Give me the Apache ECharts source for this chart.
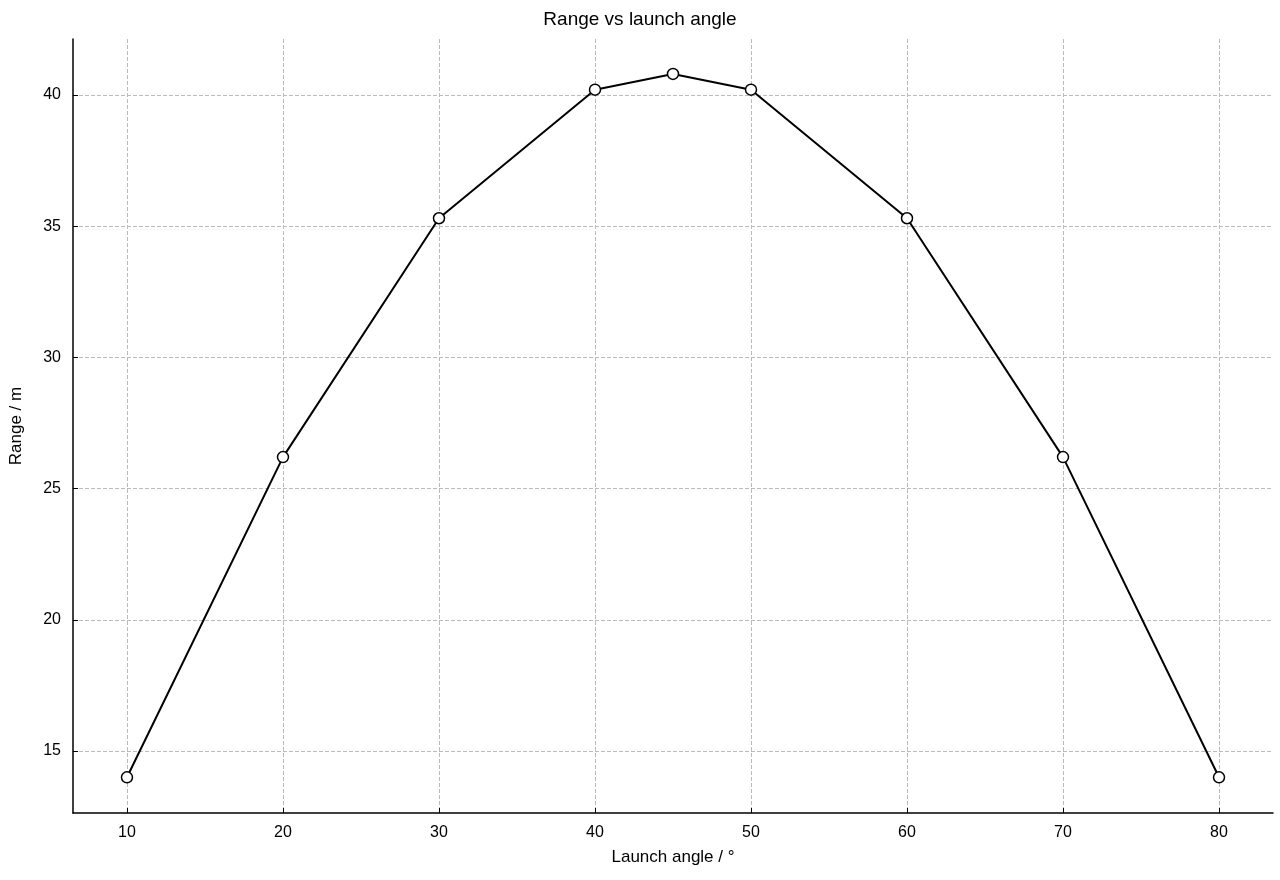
<!DOCTYPE html>
<html><head><meta charset="utf-8">
<script src="https://cdn.jsdelivr.net/npm/echarts@6/dist/echarts.min.js"></script>
<style>html,body{margin:0;padding:0;background:#fff}#c{width:1280px;height:880px}</style>
</head><body><div id="c"></div>
<script>
const angles = [10, 20, 30, 40, 45, 50, 60, 70, 80];
const ranges = [14.0, 26.2, 35.3, 40.2, 40.8, 40.2, 35.3, 26.2, 14.0];
const xTicks = [10, 20, 30, 40, 50, 60, 70, 80];
const yTicks = [15, 20, 25, 30, 35, 40];
const font = 'Liberation Sans, Arial, sans-serif';
const chart = echarts.init(document.getElementById('c'));
chart.setOption({
  animation: false,
  backgroundColor: '#fff',
  title: {text: 'Range vs launch angle', left: 'center', top: 5,
    textStyle: {fontFamily: font, fontSize: 19, fontWeight: 'normal', color: '#000'}},
  grid: {left: 73, right: 7, top: 39, bottom: 67},
  xAxis: {type: 'value', min: 6.54, max: 83.46,
    name: 'Launch angle / °', nameLocation: 'middle', nameGap: 36,
    nameTextStyle: {fontFamily: font, fontSize: 17, color: '#000'},
    axisLine: {lineStyle: {color: '#000', width: 1.5}},
    axisTick: {inside: true, length: 5, customValues: xTicks, lineStyle: {color: '#000'}},
    axisLabel: {customValues: xTicks, fontFamily: font, fontSize: 16, color: '#000', margin: 12},
    splitLine: {show: true, lineStyle: {type: 'dashed', color: '#bbb'}}},
  yAxis: {type: 'value', min: 12.64, max: 42.13,
    name: 'Range / m', nameLocation: 'middle', nameGap: 48,
    nameTextStyle: {fontFamily: font, fontSize: 17, color: '#000'},
    axisLine: {show: true, lineStyle: {color: '#000', width: 1.5}},
    axisTick: {show: true, inside: true, length: 5, customValues: yTicks, lineStyle: {color: '#000'}},
    axisLabel: {customValues: yTicks, fontFamily: font, fontSize: 16, color: '#000', margin: 12},
    splitLine: {show: true, lineStyle: {type: 'dashed', color: '#bbb'}}},
  series: [{type: 'line', data: angles.map((a, i) => [a, ranges[i]]),
    symbol: 'circle', symbolSize: 11,
    lineStyle: {color: '#000', width: 2},
    itemStyle: {color: '#fff', borderColor: '#000', borderWidth: 1.5}}]
});
</script></body></html>
